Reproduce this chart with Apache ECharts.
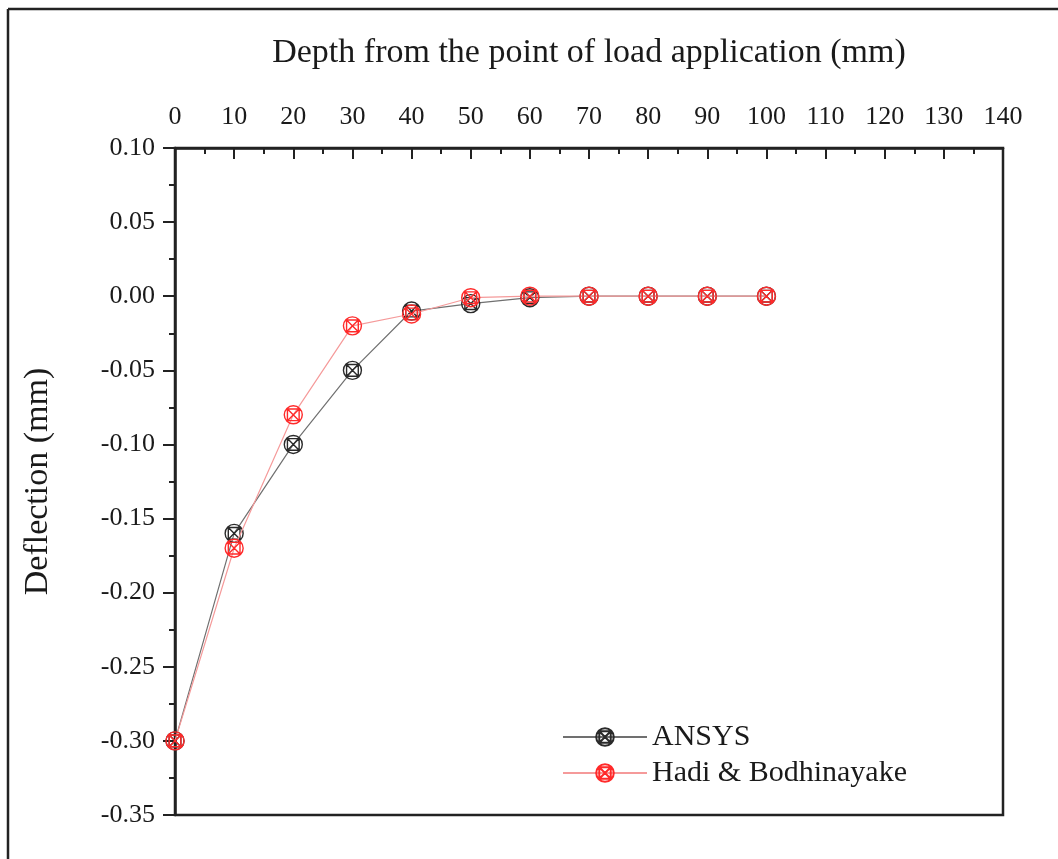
<!DOCTYPE html>
<html>
<head>
<meta charset="utf-8">
<script src="https://cdn.jsdelivr.net/npm/echarts@6/dist/echarts.min.js"></script>
<style>
  html, body { margin: 0; padding: 0; background: #fff; }
  #chart { width: 1058px; height: 859px; }
</style>
</head>
<body>
<div id="chart"></div>
<script>
// Depth below the load point (mm) and the deflection found at each depth (mm)
const depth = [0, 10, 20, 30, 40, 50, 60, 70, 80, 90, 100];
const ansys = [-0.30, -0.16, -0.10, -0.05, -0.010, -0.005, -0.001, 0, 0, 0, 0];
const hadi  = [-0.30, -0.17, -0.08, -0.02, -0.012, -0.001, 0, 0, 0, 0, 0];
const seriesNames = ['ANSYS', 'Hadi & Bodhinayake'];

const FONT = "'Liberation Serif', 'Times New Roman', serif";
const TEXT = '#1a1a1a';

// Circle with a crossed square inside
const crossCircle = 'path://M20 10A10 10 0 1 1 0 10A10 10 0 1 1 20 10ZM3.5 3.5L16.5 3.5L16.5 16.5L3.5 16.5ZM3.5 3.5L16.5 16.5M16.5 3.5L3.5 16.5';

const pairs = (ys) => depth.map((d, i) => [d, ys[i]]);

const chart = echarts.init(document.getElementById('chart'), null, { renderer: 'canvas' });

chart.setOption({
  backgroundColor: '#fff',
  animation: false,
  grid: {
    left: 175, top: 148, right: 55, bottom: 44,
    show: true, borderColor: '#222', borderWidth: 2.5, backgroundColor: 'transparent'
  },
  legend: {
    orient: 'vertical',
    left: 557, top: 717,
    itemWidth: 84, itemHeight: 22, itemGap: 6,
    textStyle: { fontFamily: FONT, fontSize: 30, color: TEXT, padding: [0, 0, 0, 0] },
    data: seriesNames
  },
  xAxis: {
    type: 'value',
    position: 'top',
    min: 0, max: 140, interval: 10,
    name: 'Depth from the point of load application (mm)',
    nameLocation: 'middle',
    nameGap: 78,
    nameTextStyle: { fontFamily: FONT, fontSize: 34, color: TEXT },
    axisLine: { show: true, onZero: false, lineStyle: { color: '#222', width: 2.5 } },
    axisTick: { show: true, inside: true, length: 11, lineStyle: { color: '#222', width: 2 } },
    minorTick: { show: true, splitNumber: 2, length: 6, lineStyle: { color: '#222', width: 2 } },
    axisLabel: { fontFamily: FONT, fontSize: 26, color: TEXT, margin: 18 },
    splitLine: { show: false }
  },
  yAxis: {
    type: 'value',
    min: -0.35, max: 0.10, interval: 0.05,
    name: 'Deflection (mm)',
    nameLocation: 'middle',
    nameGap: 120,
    nameRotate: 90,
    nameTextStyle: { fontFamily: FONT, fontSize: 34, color: TEXT },
    axisLine: { show: true, onZero: false, lineStyle: { color: '#222', width: 2.5 } },
    axisTick: { show: true, inside: false, length: 12, lineStyle: { color: '#222', width: 2 } },
    minorTick: { show: true, splitNumber: 2, length: 6, lineStyle: { color: '#222', width: 2 } },
    axisLabel: {
      fontFamily: FONT, fontSize: 26, color: TEXT, margin: 20,
      formatter: (v) => (Math.abs(v) < 1e-9 ? 0 : v).toFixed(2)
    },
    splitLine: { show: false }
  },
  series: [
    {
      name: seriesNames[0],
      type: 'line',
      data: pairs(ansys),
      symbol: crossCircle,
      symbolSize: 18,
      showAllSymbol: true,
      lineStyle: { color: '#707070', width: 1.2 },
      itemStyle: { color: 'rgba(0,0,0,0)', borderColor: '#2a2a2a', borderWidth: 1.4 },
      z: 2
    },
    {
      name: seriesNames[1],
      type: 'line',
      data: pairs(hadi),
      symbol: crossCircle,
      symbolSize: 18,
      showAllSymbol: true,
      lineStyle: { color: '#f59a9a', width: 1.2 },
      itemStyle: { color: 'rgba(0,0,0,0)', borderColor: '#ff2a2a', borderWidth: 1.4 },
      z: 3
    }
  ],
  graphic: [
    // page frame: top and left rules
    { type: 'line', shape: { x1: 8, y1: 9, x2: 1058, y2: 9 }, style: { stroke: '#222', lineWidth: 2.5 }, silent: true },
    { type: 'line', shape: { x1: 8, y1: 9, x2: 8, y2: 859 }, style: { stroke: '#222', lineWidth: 2.5 }, silent: true }
  ]
});
</script>
</body>
</html>
